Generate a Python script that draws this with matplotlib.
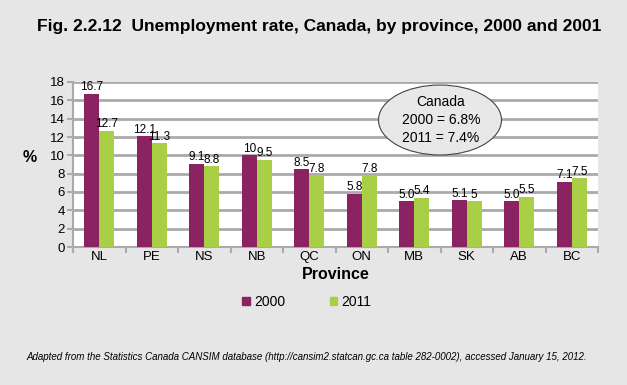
import numpy as np
import matplotlib.pyplot as plt
from matplotlib.patches import Ellipse, Patch

# Data
provinces = ['NL', 'PE', 'NS', 'NB', 'QC', 'ON', 'MB', 'SK', 'AB', 'BC']
rate_2000 = [16.7, 12.1, 9.1, 10, 8.5, 5.8, 5.0, 5.1, 5.0, 7.1]
rate_2011 = [12.7, 11.3, 8.8, 9.5, 7.8, 7.8, 5.4, 5, 5.5, 7.5]
labels_2000 = ['16.7', '12.1', '9.1', '10', '8.5', '5.8', '5.0', '5.1', '5.0', '7.1']
labels_2011 = ['12.7', '11.3', '8.8', '9.5', '7.8', '7.8', '5.4', '5', '5.5', '7.5']
series = ['2000', '2011']

bg = '#e6e6e6'
c2000 = '#8b2262'
c2011 = '#a8cf45'
grid_c = '#aaaaaa'

plt.rcParams['font.family'] = ['Liberation Sans', 'DejaVu Sans']

fig = plt.figure(figsize=(6.27, 3.85), dpi=100, facecolor=bg)
ax = fig.add_axes([73/627, 1-247/385, 525/627, 165/385])
ax.set_facecolor('white')

x = np.arange(len(provinces))
w = 0.285
ax.bar(x - w/2, rate_2000, w, color=c2000, zorder=3)
ax.bar(x + w/2, rate_2011, w, color=c2011, zorder=3)

# Value labels above bars
for xi, v, s in zip(x, rate_2000, labels_2000):
    ax.text(xi - w/2, v + 0.05, s, ha='center', va='bottom', fontsize=8.5, zorder=4)
for xi, v, s in zip(x, rate_2011, labels_2011):
    ax.text(xi + w/2, v + 0.05, s, ha='center', va='bottom', fontsize=8.5, zorder=4)

ax.set_xlim(-0.5, len(provinces) - 0.5)
ax.set_ylim(0, 18)
ax.set_yticks(np.arange(0, 19, 2))
ax.tick_params(axis='y', labelsize=9.5, length=4, color=grid_c, width=1.5, pad=2)
ax.set_xticks(x)
ax.set_xticklabels(provinces, fontsize=9.5)
ax.tick_params(axis='x', length=0, pad=3)
ax.set_xticks(np.arange(-0.5, len(provinces)), minor=True)
ax.tick_params(axis='x', which='minor', length=4, color=grid_c, width=1.5)

ax.yaxis.grid(True, color=grid_c, linewidth=2, zorder=0)
ax.set_axisbelow(True)
for side in ['top', 'right']:
    ax.spines[side].set_visible(False)
for side in ['left', 'bottom']:
    ax.spines[side].set_color(grid_c)
    ax.spines[side].set_linewidth(1.5)

ax.set_xlabel('Province', fontsize=11.5, fontweight='bold', labelpad=3)
fig.text(30/627, 1-157/385, '%', fontsize=11.5, fontweight='bold', ha='center', va='center')

# Canada callout
ell = Ellipse((440/627, 1-120/385), 123/627, 70/385, transform=fig.transFigure,
              facecolor='#e8e8e8', edgecolor='#444444', linewidth=0.8, zorder=5)
fig.patches.append(ell)
fig.text(441/627, 1-120/385, 'Canada\n2000 = 6.8%\n2011 = 7.4%', ha='center', va='center',
         fontsize=10, linespacing=1.4, zorder=6)

# Legend
handles = [Patch(color=c2000), Patch(color=c2011)]
fig.legend(handles, series, loc='center', bbox_to_anchor=(307/627, 1-302/385), ncol=2,
           frameon=False, fontsize=10, handlelength=0.55, handleheight=0.55,
           handletextpad=0.3, columnspacing=3.2)

fig.text(319/627, 1-27/385, 'Fig. 2.2.12  Unemployment rate, Canada, by province, 2000 and 2001',
         ha='center', va='center', fontsize=12.5, fontweight='bold')
fig.text(307/627, 1-357/385,
         'Adapted from the Statistics Canada CANSIM database (http://cansim2.statcan.gc.ca table 282-0002), accessed January 15, 2012.',
         ha='center', va='center', fontsize=7, style='italic')

fig.savefig('out.png', dpi=100, facecolor=bg)
